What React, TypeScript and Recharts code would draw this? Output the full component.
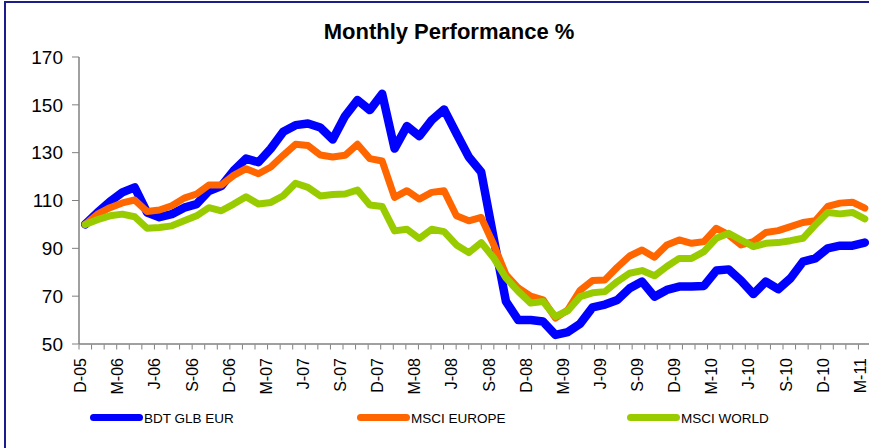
import { LineChart, Line, XAxis, YAxis } from "recharts";

// monthly points, Dec 2005 .. Mar 2011
const months = [
  "D-05",
  "J-06", "F-06", "M-06", "A-06", "M-06", "J-06", "J-06", "A-06", "S-06", "O-06", "N-06", "D-06",
  "J-07", "F-07", "M-07", "A-07", "M-07", "J-07", "J-07", "A-07", "S-07", "O-07", "N-07", "D-07",
  "J-08", "F-08", "M-08", "A-08", "M-08", "J-08", "J-08", "A-08", "S-08", "O-08", "N-08", "D-08",
  "J-09", "F-09", "M-09", "A-09", "M-09", "J-09", "J-09", "A-09", "S-09", "O-09", "N-09", "D-09",
  "J-10", "F-10", "M-10", "A-10", "M-10", "J-10", "J-10", "A-10", "S-10", "O-10", "N-10", "D-10",
  "J-11", "F-11", "M-11",
];

const bdtGlbEur = [
  100, 105, 109.5, 113.4, 115.5, 105, 103, 104.3, 107, 108.5, 114, 116, 122.5,
  127.5, 126, 131.7, 138.7, 141.5, 142.2, 140.5, 135.5, 145.3, 152, 147.8, 154.6,
  131.7, 141.1, 136.9, 143.6, 148.1, 138, 128.2, 121.9, 94.5, 67.8, 60, 60,
  59.4, 53.8, 55, 58.5, 65.3, 66.5, 68.4, 73.3, 76.1, 69.8, 72.6, 74,
  74, 74.3, 80.7, 81.2, 76.5, 70.9, 76.1, 72.9, 77.5, 84.4, 85.8, 90,
  91.1, 91.1, 92.4,
];

const msciEurope = [
  100, 104.3, 107, 109, 110.2, 105.4, 106, 107.8, 111, 112.7, 116.5, 116.5, 120.5,
  123.3, 121.2, 124, 128.9, 133.5, 133, 129, 128.2, 128.9, 133.5, 127.5, 126.5,
  111.3, 114.1, 110.6, 113.4, 114.1, 103.6, 101.5, 102.9, 91.7, 79, 73.4, 70,
  68.5, 60.8, 64.3, 72.5, 76.6, 76.8, 82.1, 86.8, 89.3, 86.3, 91.4, 93.5,
  92.1, 92.8, 98.4, 95.6, 91.4, 92.8, 96.6, 97.4, 99.1, 100.8, 101.5, 107.5,
  108.9, 109.3, 106.8,
];

const msciWorld = [
  100, 102, 103.6, 104.3, 103.2, 98.4, 98.7, 99.4, 101.5, 103.6, 107, 105.7, 108.5,
  111.6, 108.5, 109.2, 112, 117.2, 115.5, 111.9, 112.5, 112.7, 114.4, 108.1, 107.5,
  97.3, 98, 94.1, 98, 97, 91.4, 88.2, 92.4, 86.1, 77.6, 72, 67.1,
  67.8, 61.5, 63.9, 69.8, 71.4, 71.9, 76.1, 79.6, 80.7, 78.5, 82.4, 85.8,
  85.8, 88.6, 94.2, 96.3, 93.5, 90.7, 92.1, 92.4, 93.2, 94.2, 99.8, 105,
  104.4, 105, 102.3,
];

const yTicks = [50, 70, 90, 110, 130, 150, 170];

// tick marks sit between the months (Excel style)
const monthMarks = months.map((_, i) => i).concat(months.length);

const series = [
  { key: "bdt", name: "BDT GLB EUR", color: "#0000ff", width: 8.5 },
  { key: "europe", name: "MSCI EUROPE", color: "#ff6600", width: 7 },
  { key: "world", name: "MSCI WORLD", color: "#99cc00", width: 7 },
];

const data = months.map((m, i) => ({
  month: m,
  bdt: bdtGlbEur[i],
  europe: msciEurope[i],
  world: msciWorld[i],
}));

const FONT = "'Liberation Sans', Arial, sans-serif";
const AXIS = "#808080";

function MonthTick({ x, y, payload }: any) {
  return (
    <text
      x={x}
      y={y}
      transform={`rotate(-90 ${x} ${y})`}
      textAnchor="end"
      dy={1}
      fontSize={16}
      fill="#000"
      fontFamily={FONT}
    >
      {payload.value}
    </text>
  );
}

function NoLabel() {
  return <g />;
}

function LegendRow() {
  const lefts = [90, 357, 627];
  return (
    <>
      {series.map((s, i) => (
        <div
          key={s.key}
          style={{
            position: "absolute",
            left: lefts[i],
            top: 411,
            display: "flex",
            alignItems: "center",
            fontFamily: FONT,
            fontSize: 13.5,
            color: "#000",
          }}
        >
          <div
            style={{
              width: 53,
              height: 7,
              borderRadius: 4,
              background: s.color,
              marginRight: 1,
              marginTop: -3,
            }}
          />
          <span>{s.name}</span>
        </div>
      ))}
    </>
  );
}

export default function App() {
  return (
    <div
      style={{
        position: "absolute",
        left: 0,
        top: 0,
        width: 869,
        height: 448,
        overflow: "hidden",
        background: "#fff",
        fontFamily: FONT,
      }}
    >
      <div
        style={{
          position: "absolute",
          left: 4,
          top: 1,
          width: 880,
          height: 460,
          borderLeft: "2px solid #1c1c8c",
          borderTop: "2px solid #1c1c8c",
        }}
      />
      <div
        style={{
          position: "absolute",
          left: 0,
          top: 21,
          width: 898,
          textAlign: "center",
          fontWeight: "bold",
          fontSize: 22,
          lineHeight: "22px",
          color: "#000",
        }}
      >
        Monthly Performance %
      </div>
      <div style={{ position: "absolute", left: 0, top: 0 }}>
        <LineChart
          width={880}
          height={448}
          data={data}
          margin={{ top: 57, right: 9, left: 0, bottom: 0 }}
        >
          <XAxis
            dataKey="month"
            interval={2}
            padding={{ left: 6.19, right: 6.19 }}
            axisLine={{ stroke: AXIS, strokeWidth: 1.5 }}
            tickLine={false}
            tickSize={6}
            tickMargin={8}
            tick={<MonthTick />}
            height={0.5}
          />
          <XAxis
            xAxisId="marks"
            type="number"
            domain={[0, months.length]}
            ticks={monthMarks}
            interval={0}
            allowDataOverflow
            tick={<NoLabel />}
            axisLine={false}
            tickLine={{ stroke: AXIS, strokeWidth: 1 }}
            tickSize={5}
            height={103.5}
          />
          <YAxis
            domain={[50, 170]}
            ticks={yTicks}
            width={79}
            axisLine={{ stroke: AXIS, strokeWidth: 1.5 }}
            tickLine={{ stroke: AXIS }}
            tickSize={7}
            tickMargin={9}
            tick={{ fill: "#000", fontSize: 19, fontFamily: FONT }}
          />
          {series.map((s) => (
            <Line
              key={s.key}
              type="linear"
              dataKey={s.key}
              name={s.name}
              stroke={s.color}
              strokeWidth={s.width}
              strokeLinecap="round"
              strokeLinejoin="round"
              dot={false}
              activeDot={false}
              isAnimationActive={false}
            />
          ))}
        </LineChart>
      </div>
      <LegendRow />
    </div>
  );
}
